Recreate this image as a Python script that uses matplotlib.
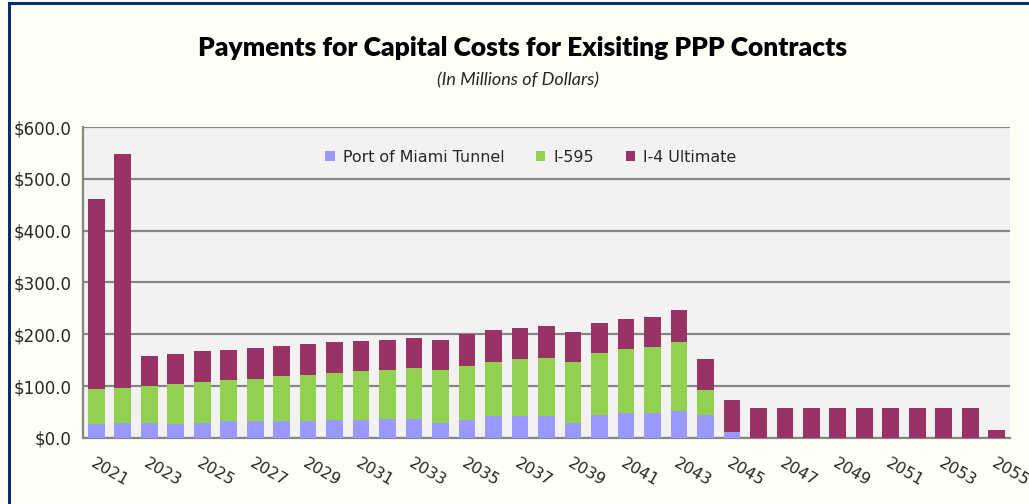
import numpy as np
import matplotlib
matplotlib.use("Agg")
import matplotlib.pyplot as plt
from matplotlib.lines import Line2D
from matplotlib.ticker import FuncFormatter

# Years and payments (millions of dollars)
years = list(range(2021, 2056))
port_of_miami = [27, 28, 28, 27, 28, 32, 32, 32, 32, 35, 34, 37, 37, 29, 34,
                 42, 42, 42, 29, 45, 48.5, 48.5, 52, 45, 12,
                 0, 0, 0, 0, 0, 0, 0, 0, 0, 0]
i595 = [67, 68.5, 72, 77, 80, 80, 82.5, 88, 90, 91, 95, 94, 98, 102, 105,
        105, 111, 113, 118, 118, 122.5, 126.5, 133, 48, 0,
        0, 0, 0, 0, 0, 0, 0, 0, 0, 0]
i4_ultimate = [368, 451.5, 58, 58, 60.5, 58, 59.5, 58, 60, 60, 58, 59, 58.5, 59, 61,
               61, 59, 60.5, 58, 59, 59, 59, 61, 60, 61,
               57, 57, 57, 57, 57, 57, 57, 57, 57, 15]
series_names = ["Port of Miami Tunnel", "I-595", "I-4 Ultimate"]
colors = ["#9999FF", "#92D050", "#993366"]

fig = plt.figure(figsize=(10.29, 5.04), dpi=100)
fig.patch.set_facecolor("#FFFFF5")
ax = fig.add_axes([0.0807, 0.131, 0.9008, 0.617])
ax.set_facecolor("#F2F2F2")

x = np.arange(len(years))
bottom = np.zeros(len(years))
for vals, name, col in zip([port_of_miami, i595, i4_ultimate], series_names, colors):
    vals = np.array(vals, dtype=float)
    ax.bar(x, vals, 0.63, bottom=bottom, color=col, label=name, zorder=3)
    bottom += vals

ax.set_xlim(-0.5, len(years) - 0.5)
ax.set_ylim(0, 600)
ax.set_yticks(np.arange(0, 601, 100))
ax.yaxis.set_major_formatter(FuncFormatter(lambda v, p: f"${v:.1f}"))
ax.grid(axis="y", color="#868686", linewidth=1.6, zorder=1)
ax.tick_params(axis="y", length=0, labelsize=12, labelcolor="#262626", pad=8)

ax.set_xticks(x[::2])
ax.set_xticklabels([str(y) for y in years[::2]], rotation=-30, ha="left",
                   rotation_mode="anchor", fontsize=11.5, color="#262626")
ax.tick_params(axis="x", length=0, pad=13)

for s in ["top", "right"]:
    ax.spines[s].set_visible(False)
for s in ["left", "bottom"]:
    ax.spines[s].set_color("#868686")
    ax.spines[s].set_linewidth(1.6)

leg = ax.legend(loc="upper center", bbox_to_anchor=(0.483, 0.972), ncol=3,
                frameon=False, fontsize=11.4, handlelength=0.6, handleheight=0.6,
                columnspacing=2.0, handletextpad=0.5)
for t in leg.get_texts():
    t.set_color("#262626")

fig.text(0.508, 0.905, "Payments for Capital Costs for Exisiting PPP Contracts",
         ha="center", va="center", fontsize=19, fontweight="heavy",
         family="Lato", color="black")
fig.text(0.503, 0.84, "(In Millions of Dollars)", ha="center", va="center",
         fontsize=13, style="italic", family="Lato", color="#262626")

# dark blue frame around the chart (left and top edges visible)
fig.add_artist(Line2D([0.0088, 0.0088], [0, 0.995], color="#0B2A78", linewidth=2.2))
fig.add_artist(Line2D([0.0088, 1.0], [0.995, 0.995], color="#0B2A78", linewidth=2.2))

fig.savefig("out.png", dpi=100, facecolor=fig.get_facecolor())
